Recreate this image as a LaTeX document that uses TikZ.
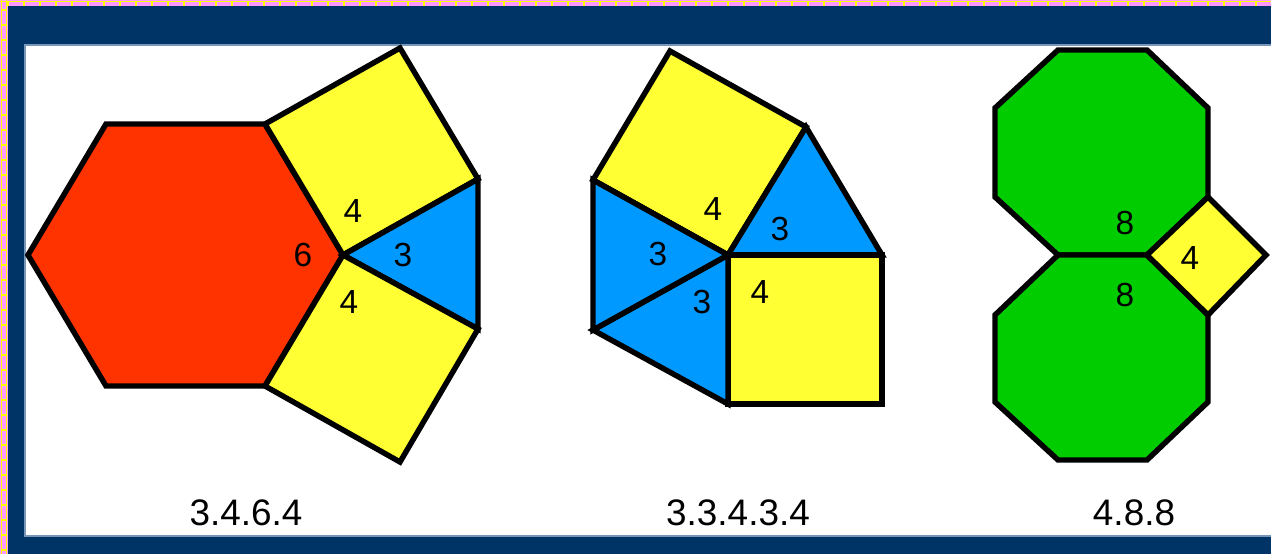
\documentclass[tikz,border=0pt]{standalone}
\usepackage{fontspec}
\setmainfont{Liberation Sans}
\usepackage{tikz}
\usetikzlibrary{calc}

\definecolor{frame}{RGB}{0,51,102}
\definecolor{brick}{RGB}{255,153,255}
\definecolor{mortar}{RGB}{255,255,0}
\definecolor{hexred}{RGB}{255,51,0}
\definecolor{sqyellow}{RGB}{255,255,51}
\definecolor{triblue}{RGB}{0,153,255}
\definecolor{octgreen}{RGB}{0,204,0}

\tikzset{
  tile/.style={draw=black, line width=3.1pt, line join=miter},
  num/.style={font=\fontsize{19}{19}\selectfont, inner sep=0pt},
  caption/.style={font=\fontsize{21}{21}\selectfont, inner sep=0pt}
}

\begin{document}
\begin{tikzpicture}[x=0.02cm, y=-0.02cm]
\useasboundingbox (0,0) rectangle (1271,554);
\fill[brick] (0,0) rectangle (1271,554); %brick edge
\draw[mortar, line width=1pt] (0,1.5) -- (1271,1.5);
\draw[mortar, line width=1pt] (1.5,0) -- (1.5,554);
\draw[mortar, line width=1pt] (6.5,0) -- (6.5,554);
\foreach \x in {8,24,...,1271} \draw[mortar, line width=1pt] (\x,1.5) -- (\x,6);
\foreach \y in {10,25,...,554} \draw[mortar, line width=1pt] (1.5,\y) -- (6.5,\y);
\fill[frame] (8,6) rectangle (1271,554); %navy frame
\filldraw[fill=white, draw={rgb,255:red,120;green,150;blue,185}, line width=0.6pt] (25,45) rectangle (1280,536);

% 3.4.6.4
\filldraw[tile, fill=hexred] (28,255) -- (106,124) -- (265,124) -- (343,255) -- (265,386) -- (106,386) -- cycle; %hexagon
\filldraw[tile, fill=sqyellow] (265,124) -- (400,48) -- (478,179) -- (343,255) -- cycle; %upper square
\filldraw[tile, fill=triblue] (343,255) -- (478,179) -- (478,329) -- cycle; %triangle
\filldraw[tile, fill=sqyellow] (343,255) -- (478,329) -- (400,462) -- (265,386) -- cycle; %lower square
\node[num] (hexsix) at (303,255) {6};
\node[num] (hexsqa) at (353,211) {4};
\node[num] (hextri) at (403,255) {3};
\node[num] (hexsqb) at (349,302) {4};

% 3.3.4.3.4
\filldraw[tile, fill=sqyellow] (593,180) -- (670,51) -- (806,127) -- (728,255) -- cycle; %upper square
\filldraw[tile, fill=triblue] (728,255) -- (806,127) -- (882,255) -- cycle; %upper triangle
\filldraw[tile, fill=sqyellow] (728,255) -- (882,255) -- (882,404) -- (728,404) -- cycle; %lower square
\filldraw[tile, fill=triblue] (728,255) -- (728,404) -- (593,330) -- cycle; %lower triangle
\filldraw[tile, fill=triblue] (728,255) -- (593,330) -- (593,180) -- cycle; %left triangle
\node[num] (snubsqa) at (713,209) {4};
\node[num] (snubtria) at (780,229) {3};
\node[num] (snubtrib) at (658,254) {3};
\node[num] (snubtric) at (702,302) {3};
\node[num] (snubsqb) at (760,292) {4};

% 4.8.8
\filldraw[tile, fill=octgreen] (1058,50) -- (1147,50) -- (1208,108) -- (1208,197) -- (1147,255) -- (1058,255) -- (995,197) -- (995,108) -- cycle; %upper octagon
\filldraw[tile, fill=octgreen] (1058,255) -- (1147,255) -- (1208,315) -- (1208,402) -- (1147,460) -- (1058,460) -- (995,402) -- (995,315) -- cycle; %lower octagon
\filldraw[tile, fill=sqyellow] (1147,255) -- (1208,197) -- (1266,255) -- (1208,315) -- cycle; %square
\node[num] (octa) at (1125,223) {8};
\node[num] (octb) at (1125,295) {8};
\node[num] (octsq) at (1190,258) {4};

\node[caption] (caphex) at (246,513) {3.4.6.4};
\node[caption] (capsnub) at (738,513) {3.3.4.3.4};
\node[caption] (capoct) at (1134,513) {4.8.8};
\end{tikzpicture}
\end{document}
